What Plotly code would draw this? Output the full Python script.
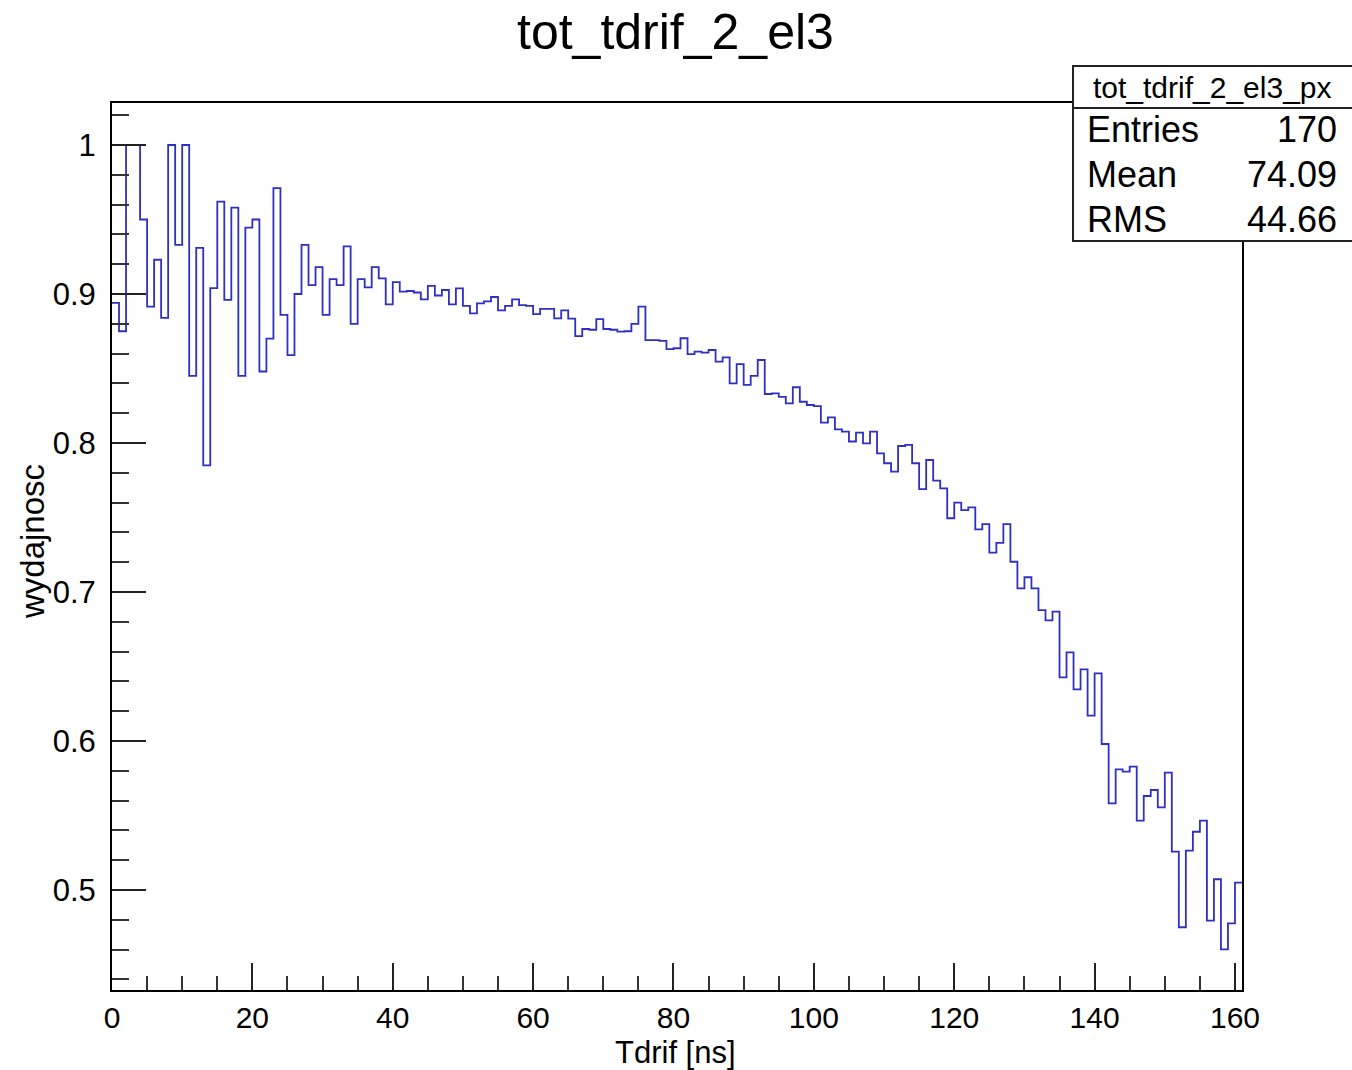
import plotly.graph_objects as go

# ---- data ----
bin_edges = list(range(0, 162))          # 161 bins of 1 ns, 0..161
efficiency = [
    0.894, 0.875, 1.000, 1.000, 0.950, 0.8915, 0.923, 0.884, 1.000, 0.933,
    1.000, 0.845, 0.931, 0.785, 0.904, 0.962, 0.896, 0.958, 0.845, 0.9445,
    0.950, 0.848, 0.870, 0.971, 0.886, 0.859, 0.900, 0.933, 0.906, 0.918,
    0.886, 0.910, 0.906, 0.932, 0.880, 0.910, 0.9045, 0.918, 0.9105, 0.893,
    0.908, 0.9016, 0.902, 0.901, 0.8964, 0.9054, 0.899, 0.9027, 0.893, 0.9038,
    0.892, 0.887, 0.8937, 0.895, 0.898, 0.889, 0.892, 0.8964, 0.8926, 0.892,
    0.8865, 0.890, 0.890, 0.8837, 0.889, 0.8835, 0.8717, 0.8765, 0.876, 0.8832,
    0.8765, 0.876, 0.8747, 0.875, 0.880, 0.8915, 0.869, 0.869, 0.8685, 0.863,
    0.8636, 0.8703, 0.8597, 0.8613, 0.8606, 0.8624, 0.8546, 0.8575, 0.840, 0.853,
    0.839, 0.845, 0.8557, 0.8329, 0.8333, 0.831, 0.8266, 0.8374, 0.8277, 0.8255,
    0.8248, 0.8137, 0.8172, 0.8092, 0.8076, 0.801, 0.807, 0.7998, 0.8076, 0.7931,
    0.7864, 0.7808, 0.798, 0.7987, 0.7864, 0.769, 0.7886, 0.7747, 0.7696, 0.7495,
    0.760, 0.755, 0.7568, 0.742, 0.7456, 0.7264, 0.733, 0.7456, 0.7203, 0.7025,
    0.7099, 0.7025, 0.6879, 0.6810, 0.6868, 0.6427, 0.6595, 0.6347, 0.6481, 0.617,
    0.6454, 0.598, 0.5582, 0.581, 0.5794, 0.5828, 0.5465, 0.5631, 0.5671, 0.5555,
    0.5788, 0.5257, 0.475, 0.5264, 0.5391, 0.5465, 0.4794, 0.5072, 0.4602, 0.4776,
    0.5049,
]
stat_labels = ["Entries", "Mean", "RMS"]
stat_values = ["170", "74.09", "44.66"]
hist_name = "tot_tdrif_2_el3_px"
title_text = "tot_tdrif_2_el3"
x_title = "Tdrif [ns]"
y_title = "wydajnosc"

FONT = "Liberation Sans, Arial, Helvetica, sans-serif"

W, H = 1352, 1070
ML, MR, MT, MB = 112, 110, 103, 80
PW, PH = W - ML - MR, H - MT - MB


def px_x(p):
    return (p - ML) / PW


def px_y(p):
    return (H - MB - p) / PH


fig = go.Figure()
fig.add_trace(go.Scatter(
    x=bin_edges,
    y=efficiency + [efficiency[-1]],
    mode="lines",
    line=dict(shape="hv", color="#2f2fc4", width=1.8),
    hoverinfo="skip",
    showlegend=False,
))

fig.update_layout(
    width=W, height=H,
    margin=dict(l=ML, r=MR, t=MT, b=MB, autoexpand=False),
    paper_bgcolor="white", plot_bgcolor="white",
    font=dict(family=FONT, color="black"),
    showlegend=False,
)

fig.update_xaxes(
    range=[0, 161], showgrid=False, zeroline=False,
    showline=True, linecolor="black", linewidth=2, mirror=True,
    ticks="inside", ticklen=27, tickwidth=1.5, tickcolor="#222",
    tick0=0, dtick=20, tickfont=dict(size=30, family=FONT, color="black"),
    ticklabelstandoff=0,
    minor=dict(ticks="inside", ticklen=14, tickwidth=1.5, tickcolor="#333",
               tick0=0, dtick=5, showgrid=False),
    automargin=False,
)
fig.update_yaxes(
    range=[1 - (H - MB - 145) / 1490.0, 1 + (145 - MT) / 1490.0],
    showgrid=False, zeroline=False,
    showline=True, linecolor="black", linewidth=2, mirror=True,
    ticks="inside", ticklen=34, tickwidth=1.5, tickcolor="#222",
    tick0=0, dtick=0.1, tickfont=dict(size=31, family=FONT, color="black"),
    ticklabelstandoff=8,
    minor=dict(ticks="inside", ticklen=17, tickwidth=1.5, tickcolor="#333",
               tick0=0, dtick=0.02, showgrid=False),
    automargin=False,
)

annotations = [
    dict(text=title_text, xref="paper", yref="paper", x=px_x(675), y=px_y(32),
         xanchor="center", yanchor="middle", showarrow=False,
         font=dict(size=50, family=FONT, color="black")),
    dict(text=x_title, xref="paper", yref="paper", x=px_x(675), y=px_y(1052),
         xanchor="center", yanchor="middle", showarrow=False,
         font=dict(size=31, family=FONT, color="black")),
    dict(text=y_title, xref="paper", yref="paper", x=px_x(32), y=px_y(542),
         xanchor="center", yanchor="middle", textangle=-90, showarrow=False,
         font=dict(size=33, family=FONT, color="black")),
    dict(text=hist_name, xref="paper", yref="paper", x=px_x(1212), y=px_y(87),
         xanchor="center", yanchor="middle", showarrow=False,
         font=dict(size=30, family=FONT, color="black")),
]
row_y = [130, 174, 219]
for lab, val, ry in zip(stat_labels, stat_values, row_y):
    annotations.append(dict(text=lab, xref="paper", yref="paper", x=px_x(1085), y=px_y(ry),
                            xanchor="left", yanchor="middle", showarrow=False,
                            font=dict(size=36, family=FONT, color="black")))
    annotations.append(dict(text=val, xref="paper", yref="paper", x=px_x(1339), y=px_y(ry),
                            xanchor="right", yanchor="middle", showarrow=False,
                            font=dict(size=36, family=FONT, color="black")))
fig.update_layout(annotations=annotations)

fig.add_shape(type="rect", xref="paper", yref="paper",
              x0=px_x(1073), x1=px_x(1362), y0=px_y(241), y1=px_y(66),
              line=dict(color="#222", width=2), fillcolor="white", layer="above")
fig.add_shape(type="line", xref="paper", yref="paper",
              x0=px_x(1073), x1=px_x(1362), y0=px_y(108), y1=px_y(108),
              line=dict(color="#222", width=2), layer="above")

fig.write_html("out.html")
